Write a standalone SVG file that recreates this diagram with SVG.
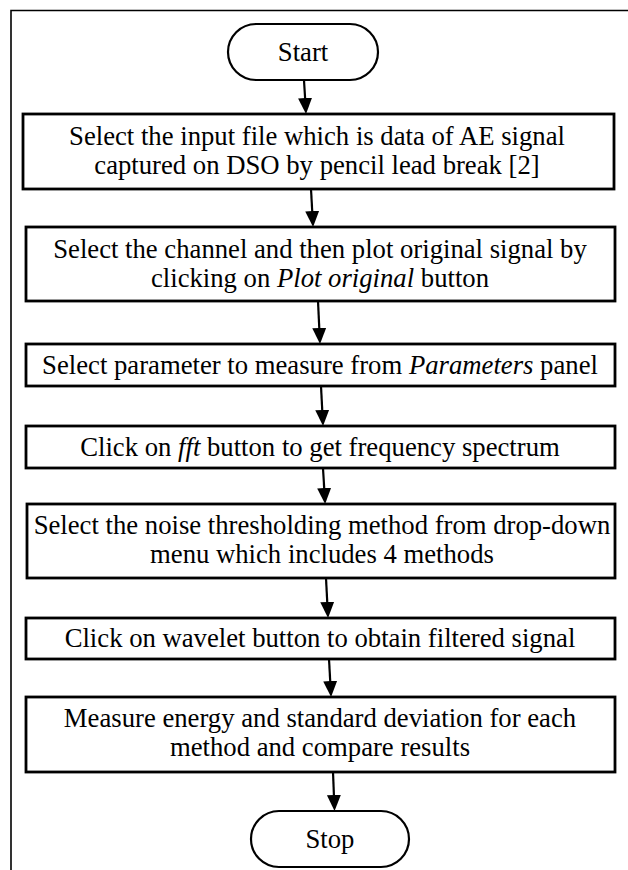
<svg xmlns="http://www.w3.org/2000/svg" width="628" height="870" viewBox="0 0 628 870">
<defs>
<style>
.box{fill:#fff;stroke:#000;stroke-width:2.8}
.term{fill:#fff;stroke:#000;stroke-width:2.2}
.t{font-size:26.7px;fill:#000;text-anchor:middle}
.i{font-style:italic}
.c{stroke:#000;stroke-width:2.2;fill:none;marker-end:url(#ah)}
</style>
<marker id="ah" markerUnits="userSpaceOnUse" markerWidth="18" markerHeight="16" refX="7" refY="7" orient="auto">
<path d="M0,0 L16,7 L0,14 z" fill="#000"/>
</marker>
</defs>
<rect width="628" height="870" fill="#fff"/>
<path d="M11,870 V10.5 H628" fill="none" stroke="#000" stroke-width="1.6"/>
<g id="connectors">
<line class="c" x1="304" y1="80" x2="305.5" y2="105"/>
<line class="c" x1="311" y1="189" x2="312.6" y2="218"/>
<line class="c" x1="318" y1="301" x2="319.6" y2="335"/>
<line class="c" x1="321" y1="386" x2="322.6" y2="417"/>
<line class="c" x1="323" y1="468" x2="324.6" y2="495"/>
<line class="c" x1="326" y1="578" x2="327.6" y2="609"/>
<line class="c" x1="329" y1="659" x2="330.6" y2="688"/>
<line class="c" x1="333" y1="772" x2="334.2" y2="802"/>
</g>
<g font-family="'Liberation Serif', 'Times New Roman', Times, serif">
<g id="start">
<rect class="term" x="228" y="24" width="150" height="56" rx="28"/>
<text class="t" x="303" y="61">Start</text>
</g>
<g id="step1">
<rect class="box" x="23" y="114" width="591" height="75"/>
<text class="t" x="317" y="145">Select the input file which is data of AE signal</text>
<text class="t" x="317" y="174">captured on DSO by pencil lead break [2]</text>
</g>
<g id="step2">
<rect class="box" x="26" y="227" width="589" height="74"/>
<text class="t" x="320" y="258">Select the channel and then plot original signal by</text>
<text class="t" x="320" y="287">clicking on <tspan class="i">Plot original</tspan> button</text>
</g>
<g id="step3">
<rect class="box" x="26" y="344" width="589" height="42"/>
<text class="t" x="320" y="374">Select parameter to measure from <tspan class="i">Parameters</tspan> panel</text>
</g>
<g id="step4">
<rect class="box" x="26" y="426" width="589" height="42"/>
<text class="t" x="320" y="456">Click on <tspan class="i">fft</tspan> button to get frequency spectrum</text>
</g>
<g id="step5">
<rect class="box" x="27" y="504" width="588" height="74"/>
<text class="t" x="322" y="534">Select the noise thresholding method from drop-down</text>
<text class="t" x="322" y="563">menu which includes 4 methods</text>
</g>
<g id="step6">
<rect class="box" x="26" y="618" width="589" height="41"/>
<text class="t" x="320" y="647">Click on wavelet button to obtain filtered signal</text>
</g>
<g id="step7">
<rect class="box" x="26" y="697" width="589" height="75"/>
<text class="t" x="320" y="727">Measure energy and standard deviation for each</text>
<text class="t" x="320" y="756">method and compare results</text>
</g>
<g id="stop">
<rect class="term" x="251" y="811" width="158" height="56" rx="28"/>
<text class="t" x="330" y="848">Stop</text>
</g>
</g>
</svg>
